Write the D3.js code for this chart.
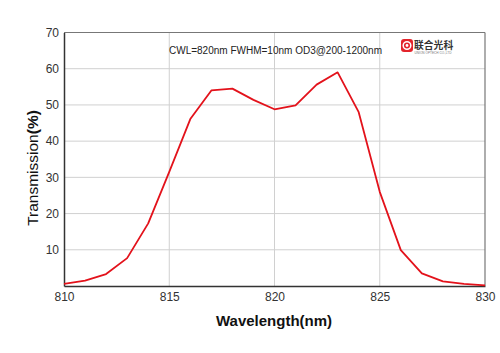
<!DOCTYPE html>
<html>
<head>
<meta charset="utf-8">
<script src="https://cdn.jsdelivr.net/npm/d3@7"></script>
<style>
  body { margin: 0; background: #fff; }
  svg { display: block; font-family: "Liberation Sans", Arial, sans-serif; }
</style>
</head>
<body>
<div id="chart"></div>
<script>
// spectrum
const wavelengths = [810, 811, 812, 813, 814, 815, 816, 817, 818, 819, 820, 821, 822, 823, 824, 825, 826, 827, 828, 829, 830]
const transmission = [0.6, 1.5, 3.3, 7.7, 17.3, 31.5, 46.1, 54.0, 54.5, 51.4, 48.8, 49.9, 55.6, 59.0, 48.0, 26.0, 9.9, 3.5, 1.3, 0.6, 0.2]
const xTicks = [810, 815, 820, 825, 830]
const yTicks = [10, 20, 30, 40, 50, 60, 70]
const note = "CWL=820nm FWHM=10nm OD3@200-1200nm"

const width = 500, height = 353
const plotLeft = 64, plotRight = 485, plotTop = 32.5, plotBottom = 286

const svg = d3.select("#chart").append("svg")
    .attr("width", width)
    .attr("height", height)

var xScale = d3.scaleLinear().domain([810, 830]).range([plotLeft, plotRight])
var yScale = d3.scaleLinear().domain([0, 70]).range([plotBottom, plotTop])

// grid
svg.append("g").selectAll("line")
    .data(xTicks.slice(1, -1))
    .enter().append("line")
    .attr("x1", d => xScale(d)).attr("x2", d => xScale(d))
    .attr("y1", plotTop).attr("y2", plotBottom)
    .attr("stroke", "#d0d0d0").attr("stroke-width", 1)
svg.append("g").selectAll("line")
    .data(yTicks.slice(0, -1))
    .enter().append("line")
    .attr("x1", plotLeft).attr("x2", plotRight)
    .attr("y1", d => yScale(d)).attr("y2", d => yScale(d))
    .attr("stroke", "#d0d0d0").attr("stroke-width", 1)

// frame
svg.append("line").attr("x1", plotLeft).attr("x2", plotRight).attr("y1", plotTop).attr("y2", plotTop)
    .attr("stroke", "#777").attr("stroke-width", 1.2)
svg.append("line").attr("x1", plotRight).attr("x2", plotRight).attr("y1", plotTop).attr("y2", plotBottom)
    .attr("stroke", "#777").attr("stroke-width", 1.2)

// axes
const xAxis = svg.append("g")
    .attr("transform", "translate(0," + plotBottom + ")")
    .call(d3.axisBottom(xScale).tickValues(xTicks).tickSize(0).tickPadding(6).tickFormat(d3.format("d")))
const yAxis = svg.append("g")
    .attr("transform", "translate(" + plotLeft + ",0)")
    .call(d3.axisLeft(yScale).tickValues(yTicks).tickSize(0).tickPadding(5))
xAxis.select(".domain").attr("stroke", "#333").attr("stroke-width", 1.5)
yAxis.select(".domain").attr("stroke", "#333").attr("stroke-width", 1.5)
svg.selectAll(".tick text")
    .attr("font-family", "'Liberation Sans', Arial, sans-serif")
    .attr("font-size", 12)
    .attr("fill", "#333")

// curve
const line = d3.line()
    .x((d, i) => xScale(wavelengths[i]))
    .y(d => yScale(d))
svg.append("path")
    .datum(transmission)
    .attr("d", line)
    .attr("fill", "none")
    .attr("stroke", "#e3121b")
    .attr("stroke-width", 1.8)
    .attr("stroke-linejoin", "round")

// axis titles
svg.append("text")
    .attr("x", 274).attr("y", 326)
    .attr("text-anchor", "middle")
    .attr("font-size", 15).attr("font-weight", "bold")
    .attr("fill", "#111")
    .text("Wavelength(nm)")

const yl = svg.append("text")
    .attr("transform", "translate(38,168) rotate(-90)")
    .attr("text-anchor", "middle")
    .attr("font-size", 15.5)
    .attr("fill", "#111")
yl.append("tspan").text("Transmission")
yl.append("tspan").attr("font-weight", "bold").text("(%)")

// annotation
svg.append("text")
    .attr("x", 169).attr("y", 53.5)
    .attr("font-size", 10)
    .attr("fill", "#222")
    .text(note)

// logo
const logo = svg.append("g").attr("transform", "translate(401,39)")
logo.append("rect").attr("width", 12).attr("height", 13).attr("rx", 3).attr("fill", "#e3242b")
logo.append("circle").attr("cx", 6).attr("cy", 6.5).attr("r", 3.8).attr("fill", "none")
    .attr("stroke", "#fff").attr("stroke-width", 1.5)
logo.append("circle").attr("cx", 6).attr("cy", 6.5).attr("r", 1.4).attr("fill", "#fff")
logo.append("text").attr("x", 13).attr("y", 9.5)
    .attr("font-family", "'Noto Sans CJK SC', sans-serif")
    .attr("font-size", 9.8).attr("font-weight", "bold").attr("fill", "#333")
    .text("联合光科")
logo.append("text").attr("x", 13.5).attr("y", 14.5)
    .attr("font-size", 2.8).attr("fill", "#777")
    .attr("textLength", 37).attr("lengthAdjust", "spacingAndGlyphs")
    .text("UNION OPTECH CO.,LTD")
</script>
</body>
</html>
